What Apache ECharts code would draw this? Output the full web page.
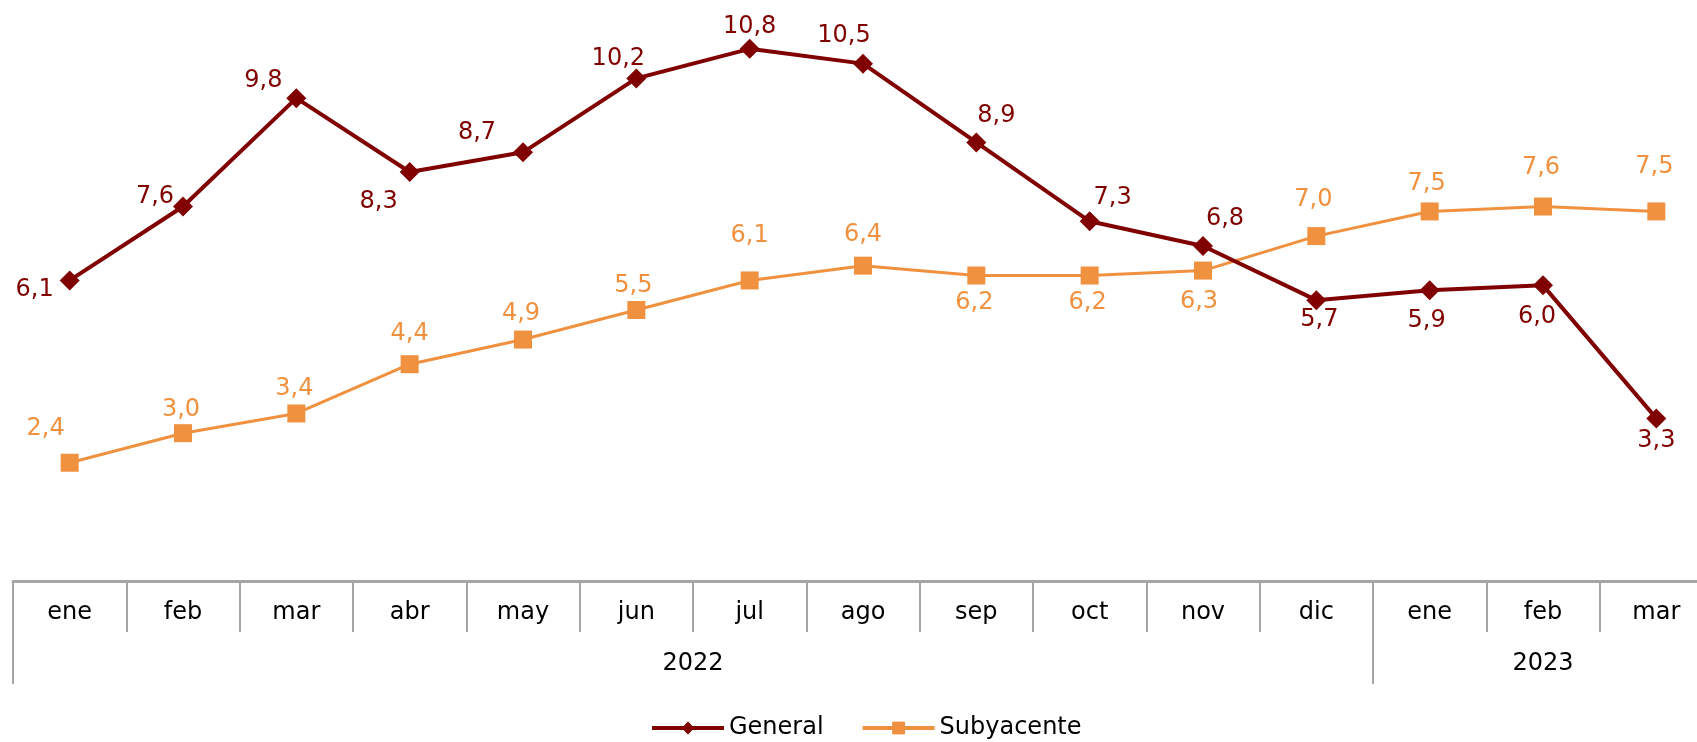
<!DOCTYPE html>
<html>
<head>
<meta charset="utf-8">
<script src="https://cdn.jsdelivr.net/npm/echarts@6/dist/echarts.min.js"></script>
<style>
  html, body { margin: 0; padding: 0; background: #fff; }
  #chart { width: 1697px; height: 742px; }
</style>
</head>
<body>
<div id="chart"></div>
<script>
// datos
var meses = ['ene', 'feb', 'mar', 'abr', 'may', 'jun', 'jul', 'ago', 'sep', 'oct', 'nov', 'dic', 'ene', 'feb', 'mar'];
var anios = ['2022', '2023'];
var general = [6.1, 7.6, 9.8, 8.3, 8.7, 10.2, 10.8, 10.5, 8.9, 7.3, 6.8, 5.7, 5.9, 6.0, 3.3];
var subyacente = [2.4, 3.0, 3.4, 4.4, 4.9, 5.5, 6.1, 6.4, 6.2, 6.2, 6.3, 7.0, 7.5, 7.6, 7.5];

// desplazamiento de etiquetas (px, desde el centro del punto)
var offGeneral = [[-35, 9], [-28, -10], [-33, -17], [-31, 30], [-46, -20], [-18, -20], [0, -22], [-19, -28],
    [20, -27], [23, -24], [22, -27], [3, 20], [-3, 30], [-6, 31], [0, 22]];
var offSub = [[-24, -34], [-2, -23], [-2, -25], [0, -30], [-2, -26], [-3, -24], [0, -45], [0, -31],
    [-2, 27], [-2, 27], [-4, 31], [-3, -36], [-3, -28], [-2, -39], [-2, -45]];

var fuente = '"DejaVu Sans", Verdana, sans-serif';
var rojo = '#800000';
var naranja = '#F0913F';
var gris = '#A6A6A6';

function coma(v) {
    return v.toFixed(1).replace('.', ',');
}

function puntos(valores, desp, color) {
    return valores.map(function (v, i) {
        return {
            value: v,
            label: {
                show: true,
                position: 'inside',
                offset: desp[i],
                formatter: coma(v),
                color: color,
                fontFamily: fuente,
                fontSize: 24
            }
        };
    });
}

var myChart = echarts.init(document.getElementById('chart'));

var option = {
    animation: false,
    grid: {
        left: 13,
        top: 39,
        width: 1700,
        height: 542,
        outerBoundsMode: 'none'
    },
    legend: {
        data: [{
            name: 'General',
            lineStyle: { width: 4 }
        }, {
            name: 'Subyacente',
            lineStyle: { width: 4 }
        }],
        left: 645,
        top: 711,
        itemWidth: 72,
        itemHeight: 16,
        itemGap: 37,
        textStyle: {
            fontFamily: fuente,
            fontSize: 24,
            color: '#000'
        }
    },
    xAxis: [{
        // meses
        type: 'category',
        data: meses,
        position: 'bottom',
        axisLine: { lineStyle: { color: gris, width: 3 } },
        axisTick: { show: true, interval: 0, length: 51, lineStyle: { color: gris, width: 2 } },
        axisLabel: { interval: 0, margin: 20, color: '#000', fontFamily: fuente, fontSize: 24 }
    }, {
        // separadores de año
        type: 'category',
        data: meses,
        position: 'bottom',
        axisLine: { show: false },
        axisTick: {
            show: true,
            length: 103,
            interval: function (i) { return i === 0 || i === 12; },
            lineStyle: { color: gris, width: 2 }
        },
        axisLabel: { show: false }
    }, {
        // años
        type: 'value',
        min: 0,
        max: 15,
        interval: 0.5,
        position: 'bottom',
        axisLine: { show: false },
        axisTick: { show: false },
        splitLine: { show: false },
        axisLabel: {
            margin: 71,
            color: '#000',
            fontFamily: fuente,
            fontSize: 24,
            formatter: function (v) {
                if (v === 6) return anios[0];
                if (v === 13.5) return anios[1];
                return '';
            }
        }
    }],
    yAxis: {
        type: 'value',
        min: 0,
        max: 11,
        show: false,
        splitLine: { show: false }
    },
    series: [{
        name: 'General',
        type: 'line',
        xAxisIndex: 0,
        data: puntos(general, offGeneral, rojo),
        symbol: 'diamond',
        symbolSize: 20,
        itemStyle: { color: rojo },
        lineStyle: { color: rojo, width: 4 },
        z: 3
    }, {
        name: 'Subyacente',
        type: 'line',
        xAxisIndex: 0,
        data: puntos(subyacente, offSub, naranja),
        symbol: 'rect',
        symbolSize: 18,
        itemStyle: { color: naranja },
        lineStyle: { color: naranja, width: 3 },
        z: 2
    }]
};

myChart.setOption(option);
</script>
</body>
</html>
